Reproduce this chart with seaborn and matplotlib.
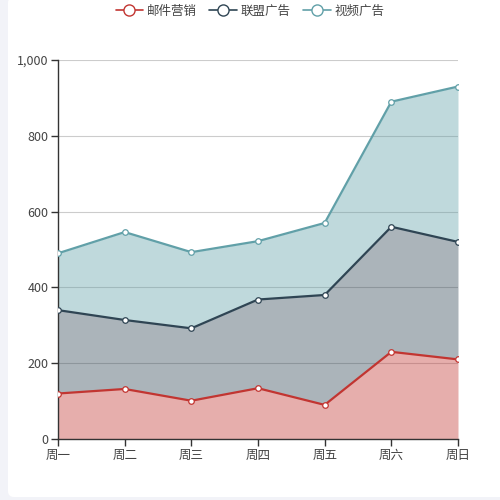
import numpy as np
import pandas as pd
import seaborn as sns
import matplotlib.pyplot as plt
from matplotlib.patches import FancyBboxPatch
from matplotlib.lines import Line2D

days = ["周一", "周二", "周三", "周四", "周五", "周六", "周日"]
series_names = ["邮件营销", "联盟广告", "视频广告"]
email = [120, 132, 101, 134, 90, 230, 210]
union = [220, 182, 191, 234, 290, 330, 310]
video = [150, 232, 201, 154, 190, 330, 410]
colors = ["#c23531", "#2f4554", "#61a0a8"]

sns.set_style("white")
plt.rcParams['font.family'] = ['Noto Sans CJK SC', 'DejaVu Sans']

fig = plt.figure(figsize=(5, 5), dpi=100, facecolor="#f2f3f8")
card = FancyBboxPatch((0.016, 0.006), 1.0, 1.0, boxstyle="round,pad=0,rounding_size=0.012",
                      transform=fig.transFigure, facecolor="white", edgecolor="none", zorder=-10)
fig.patches.append(card)

ax = fig.add_axes([0.116, 0.122, 0.8, 0.758])
ax.set_facecolor("none")
ax.set_zorder(5)

x = np.arange(len(days))
stack = np.cumsum(np.array([email, union, video]), axis=0)
base = np.zeros(len(days))
rows = []
for name, col, top in zip(series_names, colors, stack):
    ax.fill_between(x, base, top, color=col, alpha=0.4, linewidth=0, zorder=1)
    base = top
    for xi, v in zip(x, top):
        rows.append({"day": xi, "value": v, "series": name})
df = pd.DataFrame(rows)

sns.lineplot(data=df, x="day", y="value", hue="series", palette=colors, marker="o",
             markersize=4, markerfacecolor="white", markeredgewidth=0.9, linewidth=1.6,
             legend=False, ax=ax, zorder=3)
for line, col in zip(ax.lines, colors):
    line.set_markeredgecolor(col)

ax.set_xlim(0, 6)
ax.set_ylim(0, 1000)
ax.set_xticks(x)
ax.set_xticklabels(days)
ax.set_yticks([0, 200, 400, 600, 800, 1000])
ax.set_yticklabels(["0", "200", "400", "600", "800", "1,000"])
ax.set_xlabel("")
ax.set_ylabel("")
ax.yaxis.grid(True, color="#cccccc", linewidth=0.8, zorder=0)
ax.set_axisbelow(True)
for s in ["top", "right"]:
    ax.spines[s].set_visible(False)
for s in ["left", "bottom"]:
    ax.spines[s].set_color("#333333")
    ax.spines[s].set_linewidth(1)
ax.tick_params(axis="both", length=5, width=1, color="#333333", labelcolor="#444444",
               labelsize=9, direction="out", left=True, bottom=True, pad=2)

handles = [Line2D([0], [0], color=c, linewidth=1.2, marker="o", markersize=8,
                  markerfacecolor="white", markeredgewidth=1.0) for c in colors]
fig.legend(handles, series_names, loc="upper center", bbox_to_anchor=(0.5, 1.013), ncol=3,
           frameon=False, fontsize=9, handlelength=2.2, handletextpad=0.3, columnspacing=1.0,
           labelcolor="#444444")

fig.savefig("out.png", dpi=100, facecolor=fig.get_facecolor())
